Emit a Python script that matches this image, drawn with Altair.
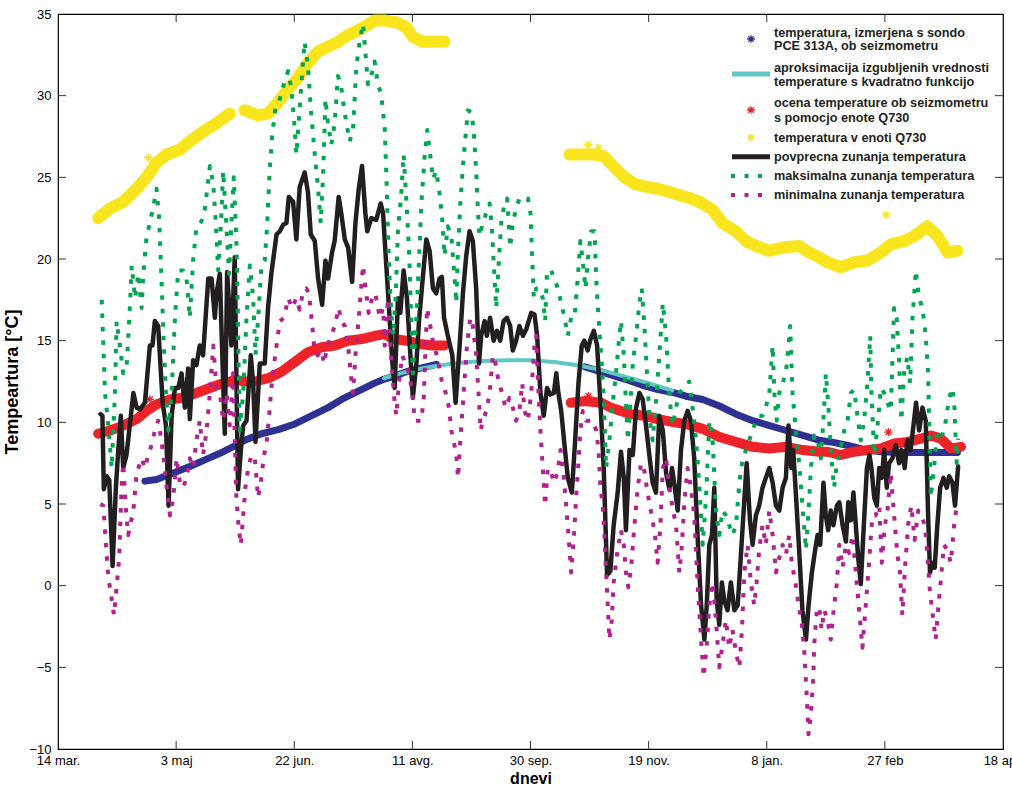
import altair as alt
import pandas as pd

# ---------------------------------------------------------------- layout
W, H = 945, 735                      # plot area in px
X_DOMAIN = [0, 400]                  # days since 14 March
Y_DOMAIN = [-10, 35]                 # deg C

tick_days = [0, 50, 100, 150, 200, 250, 300, 350, 400]
tick_labels = ["14 mar.", "3 maj", "22 jun.", "11 avg.", "30 sep.",
               "19 nov.", "8 jan.", "27 feb", "18 apr."]
y_ticks = [-10, -5, 0, 5, 10, 15, 20, 25, 30, 35]

FONT = "Liberation Sans"
C_BLUE = "#2E3192"
C_CYAN = "#62C6C4"
C_RED = "#EE2229"
C_YELLOW = "#F9E51E"
C_BLACK = "#231F20"
C_GREEN = "#00A651"
C_MAGENTA = "#B0228E"

# ---------------------------------------------------------------- data
# probe PCE 313A at the seismometer (two measured stretches)
probe_day_a = [36.8, 41.7, 48.8, 55.8, 62.9, 70, 75.5, 79, 86.1, 93.2, 100.3, 107.2,
               114.3, 121.3, 128.4, 134, 138.2, 141.8, 147.5, 153.1, 160.2]
probe_val_a = [6.4, 6.5, 6.9, 7.3, 7.75, 8.2, 8.6, 8.9, 9.3, 9.55, 9.9, 10.4,
               10.9, 11.5, 12.0, 12.4, 12.65, 12.8, 13.1, 13.3, 13.55]
probe_day_b = [223, 232, 239.8, 246.8, 253.9, 261, 265.8, 272.9, 280, 287, 294.1,
               301.2, 308.2, 315.3, 322.4, 327, 334, 341, 348.3, 355.3, 362.4,
               369.5, 376.5, 380.7]
probe_val_b = [13.4, 13.0, 12.65, 12.3, 12.0, 11.8, 11.6, 11.4, 11.0, 10.5, 10.1,
               9.8, 9.5, 9.2, 8.9, 8.8, 8.6, 8.35, 8.2, 8.15, 8.15, 8.15, 8.15, 8.15]

# quadratic approximation bridging the missing probe values
approx_day = [138, 145, 152, 160, 170, 180, 190, 200, 210, 220, 230, 240, 250, 260]
approx_val = [12.7, 13.0, 13.25, 13.45, 13.65, 13.75, 13.8, 13.8, 13.7, 13.5, 13.2,
              12.8, 12.4, 11.95]

# estimate at the seismometer from the Q730 unit
est_day_a = [17, 22, 27.6, 33.3, 37.5, 41.7, 47.3, 52.9, 58.6, 64.2, 69.9, 75.5, 79,
             83.3, 89, 94.6, 100.3, 105.9, 111.6, 117.2, 122.9, 128.5, 134.2, 138.4,
             141.8, 147.5, 153.1, 158.7, 163.6]
est_val_a = [9.3, 9.5, 9.8, 10.2, 10.7, 11.1, 11.4, 11.5, 11.8, 12.1, 12.4, 12.6, 12.5,
             12.5, 12.7, 13.1, 13.7, 14.3, 14.6, 14.7, 15.0, 15.1, 15.3, 15.4,
             15.1, 15.0, 14.8, 14.7, 14.7]
est_day_b = [217, 222.8, 229.9, 234.1, 238.3, 242.6, 248.2, 253.9, 261, 265.8, 272.9,
             280, 287, 294.1, 301.2, 308.2, 315.3, 322.4, 325.7, 331.3, 337, 342.6,
             348.3, 354, 359.6, 365.2, 369.5, 373.7, 378, 382.2]
est_val_b = [11.2, 11.3, 11.2, 10.9, 10.7, 10.5, 10.4, 10.2, 10.0, 9.9, 9.6,
             9.1, 8.8, 8.5, 8.4, 8.5, 8.3, 8.2, 8.2, 8.0, 8.2, 8.3,
             8.4, 8.7, 8.8, 9.0, 9.2, 9.0, 8.4, 8.5]
est_out_day = [38.9, 224.5, 351.5]
est_out_val = [11.4, 11.6, 9.4]

# temperature inside the Q730 unit
unit_day_a = [17, 22, 27.6, 33.3, 37.5, 41.7, 46, 51.6, 55.8, 61.4, 67, 72.7]
unit_val_a = [22.5, 23.1, 23.5, 24.3, 25.0, 25.9, 26.4, 26.7, 27.2, 27.8, 28.3, 28.9]
unit_day_b = [79, 84.7, 89, 93.2, 97.4, 101.6, 105.8, 110, 114.3, 118.5, 122.7, 128.4,
              134, 138.2, 143, 147.4, 150.2, 154.4, 158.7, 163.6]
unit_val_b = [29.1, 28.8, 28.9, 29.6, 30.4, 31.1, 32.0, 32.7, 33.0, 33.3, 33.7, 34.1,
              34.6, 34.6, 34.5, 34.2, 33.6, 33.3, 33.3, 33.3]
unit_day_c = [216.5, 221, 227, 231, 235.6, 239.8, 244, 249.6, 253.9, 258.8, 265.8,
              271.5, 277.1, 281.3, 286.9, 291.2, 295.4, 301, 306.7, 313.7, 317.9,
              322.2, 325.7, 331.3, 337, 342.6, 348.3, 352.5, 358.1, 362.4, 368,
              372.3, 376.5, 380.7]
unit_val_c = [26.4, 26.4, 26.4, 26.3, 25.6, 25.0, 24.6, 24.4, 24.3, 24.1, 23.8,
              23.5, 23.0, 22.2, 21.7, 21.1, 20.8, 20.5, 20.7, 20.8, 20.4,
              20.1, 19.8, 19.5, 19.8, 19.9, 20.4, 20.9, 21.1, 21.4, 22.0,
              21.4, 20.4, 20.5]
unit_out_day = [38.3, 224.4, 228.8, 350.5]
unit_out_val = [26.2, 27.0, 26.8, 22.7]

# daily mean outside temperature
mean_day = [18.0, 18.8, 19.4, 20.6, 21.7, 23.1, 24.5, 25.5, 26.6, 27.6, 29.0, 31.9,
            33.3, 34.7, 36.8, 38.9, 40.0, 41.0, 42.4, 44.3, 45.7, 46.8, 48.1, 49.5,
            50.9, 52.3, 53.7, 55.1, 55.8, 57.2, 58.6, 60.0, 61.4, 63.6, 65.0, 66.4,
            67.1, 68.5, 69.6, 70.6, 71.6, 73.4, 74.8, 76.2, 77.4, 78.4, 79.8, 81.6,
            82.6, 83.6, 85.4, 87.5, 88.9, 90.3, 92.5, 93.9, 95.3, 96.7, 97.7, 99.5,
            100.9, 102.3, 104.4, 105.8, 107.0, 108.7, 110.1, 111.8, 113.2, 114.3,
            116.0, 117.1, 118.8, 119.9, 121.4, 122.8, 124.5, 125.9, 127.3, 128.7,
            130.1, 130.9, 132.6, 134.7, 136.6, 137.6, 138.7, 140.1, 141.5, 142.5,
            143.9, 144.9, 146.3, 147.7, 149.5, 150.2, 151.7, 152.8, 154.2, 155.9,
            157.3, 158.7, 160.1, 161.5, 162.5, 163.4, 165.0, 166.9, 168.3, 170.0,
            171.4, 172.8, 174.2, 175.6, 177.0, 178.2, 179.1, 180.6, 181.5, 182.9,
            184.4, 185.8, 187.2, 188.6, 190.0, 191.4, 192.5, 193.9, 195.3, 196.8,
            198.2, 200.3, 201.7, 202.8, 204.2, 205.6, 207.0, 208.4, 209.9, 210.9,
            211.8, 213.0, 214.4, 215.8, 217.5, 218.9, 220.3, 221.7, 222.8, 224.2,
            225.4, 226.8, 228.2, 229.6, 231.0, 232.4, 233.8, 235.2, 236.9, 238.3,
            239.5, 240.4, 241.9, 243.3, 244.7, 246.1, 247.5, 248.9, 250.3, 251.7,
            253.1, 254.5, 256.0, 257.4, 258.8, 259.9, 260.9, 262.3, 263.7, 265.1,
            266.5, 267.9, 269.3, 270.7, 272.2, 273.6, 274.6, 275.7, 276.8, 277.8,
            278.8, 279.9, 281.0, 282.0, 283.4, 284.8, 286.3, 287.7, 288.6, 290.1,
            291.5, 292.9, 294.0, 295.4, 296.8, 298.2, 299.6, 301.1, 302.5, 303.9,
            305.3, 306.7, 308.1, 309.2, 310.4, 311.2, 312.3, 313.7, 315.1, 316.6,
            317.7, 319.1, 320.5, 321.5, 322.6, 324.0, 325.0, 326.0, 327.1, 328.2,
            329.7, 330.7, 332.1, 333.5, 334.5, 335.6, 336.7, 337.7, 338.7, 339.8,
            341.2, 342.4, 343.5, 344.3, 345.5, 346.6, 347.6, 348.7, 349.7, 350.8,
            351.8, 353.2, 354.6, 356.0, 357.0, 358.4, 359.5, 360.9, 362.1, 363.2,
            364.5, 365.9, 367.3, 368.3, 369.1, 370.1, 371.1, 372.2, 373.4, 374.8,
            376.2, 377.2, 378.6, 379.7, 381.0]
mean_val = [10.5, 10.4, 5.9, 6.7, 6.45, 1.2, 6.0, 8.3, 10.4, 7.2, 8.0, 11.8,
            10.9, 10.8, 11.2, 14.7, 14.7, 16.2, 15.9, 11.2, 9.8, 4.9, 10.4, 12.1,
            12.1, 13.0, 10.9, 13.3, 10.2, 13.8, 13.5, 14.7, 14.1, 18.8, 18.8, 16.4,
            17.9, 19.1, 13.8, 9.3, 19.2, 14.7, 20.1, 5.9, 8.3, 9.8, 10.1, 14.1,
            12.4, 8.8, 13.6, 13.6, 17.0, 19.1, 21.5, 21.7, 22.1, 22.2, 23.8, 23.5,
            21.2, 24.4, 25.3, 24.1, 21.5, 21.1, 18.8, 17.2, 19.9, 18.8,
            20.4, 21.1, 23.8, 22.8, 21.2, 20.7, 18.6, 22.2, 24.3, 25.7,
            22.8, 21.7, 22.5, 22.4, 23.4, 22.8, 20.2, 17.0, 13.7, 12.1,
            17.6, 16.7, 19.3, 17.6, 13.3, 11.5, 13.6, 16.2, 18.5, 21.2,
            20.5, 18.2, 17.9, 18.8, 18.9, 16.4, 15.3, 14.1, 11.2, 14.7,
            17.9, 20.2, 21.7, 21.1, 18.2, 13.6, 15.3, 16.2, 15.3, 16.4,
            15.0, 15.6, 15.0, 16.2, 16.4, 15.9, 14.4, 15.0, 15.9, 15.3,
            15.7, 16.7, 16.6, 15.3, 11.8, 10.4, 12.1, 11.7, 11.8, 13.0,
            11.8, 10.7, 8.6, 6.6, 5.7, 8.9, 12.4, 14.7, 15.0, 14.4,
            15.1, 15.6, 14.7, 11.2, 7.2, 0.65, 0.9, 3.7, 5.7, 8.2,
            6.6, 3.4, 8.3, 8.0, 10.9, 11.8, 11.4, 9.8, 8.0, 6.3,
            5.7, 10.4, 9.5, 6.9, 5.9, 7.2, 6.2, 4.6, 8.3, 10.1,
            10.7, 10.1, 7.8, 3.1, -1.2, -3.3, -1.2, 2.5, 3.1, 6.0,
            -0.9, -2.4, 0.2, -0.9, -1.5, 0.2, -1.5, -1.2, 0.8, 4.3,
            7.5, 4.0, 2.5, 4.3, 4.9, 6.0, 6.6, 7.2, 6.3, 4.9,
            4.6, 6.0, 6.6, 9.8, 7.2, 8.3, 5.7, 2.2, -1.5, -3.3,
            -1.2, 0.8, 2.2, 3.1, 2.5, 6.3, 4.3, 3.4, 4.6, 3.7,
            4.9, 5.1, 3.7, 2.7, 5.1, 4.0, 5.7, 3.7, 1.7, 0.1,
            4.0, 7.2, 8.0, 7.2, 5.4, 4.9, 7.2, 6.6, 8.3, 6.0,
            7.5, 7.8, 8.6, 7.5, 8.3, 7.2, 8.9, 8.3, 9.8, 11.2,
            9.5, 10.9, 10.1, 4.3, 0.8, 1.4, 1.1, 3.7, 6.0, 6.6,
            6.0, 6.7, 6.3, 4.9, 7.3]

# daily maximum outside temperature
max_day = [18.5, 19.2, 19.9, 21.3, 22.7, 24.1, 24.8, 26.2, 27.6, 29.0, 30.2, 31.2,
           32.6, 34.0, 35.4, 36.1, 37.5, 38.9, 40.6, 41.7, 42.8, 43.8, 44.8, 45.7,
           46.7, 48.1, 49.5, 50.9, 53.0, 54.4, 55.8, 57.2, 58.6, 60.7, 62.2, 64.3,
           65.7, 66.8, 67.8, 69.2, 69.9, 71.3, 72.4, 73.4, 74.4, 75.5, 76.0, 76.5,
           76.9, 78.4, 79.8, 81.2, 82.6, 83.6, 85.0, 86.1, 87.5, 88.5, 89.6, 90.6,
           92.0, 93.9, 96.0, 97.4, 98.8, 100.2, 100.9, 102.3, 103.7, 104.4, 105.8,
           107.0, 108.7, 110.1, 111.2, 112.2, 113.2, 114.3, 115.7, 117.1, 118.5,
           119.7, 121.1, 122.1, 123.5, 124.9, 126.3, 127.7, 129.1, 130.1, 131.2,
           132.6, 134.0, 135.4, 136.8, 138.3, 139.0, 139.7, 140.7, 141.8, 142.9,
           143.9, 145.3, 146.3, 147.4, 148.6, 149.5, 150.2, 151.7, 152.8, 153.8,
           155.2, 156.3, 157.6, 158.7, 160.1, 161.5, 162.6, 163.6, 165.0, 166.5,
           167.9, 168.6, 169.3, 170.3, 171.4, 172.5, 173.5, 174.9, 175.9, 177.0,
           177.7, 178.4, 179.8, 181.2, 182.7, 183.6, 184.8, 185.5, 186.6, 187.6,
           189.0, 190.1, 191.4, 192.5, 193.9, 195.3, 197.0, 198.9, 200.0, 200.6,
           201.4, 202.4, 203.8, 205.2, 206.2, 207.0, 208.7, 210.1, 211.6, 213.0,
           214.4, 215.8, 217.2, 218.6, 220.0, 221.1, 222.1, 223.3, 224.2, 225.7,
           227.1, 227.8, 228.8, 229.9, 230.9, 232.0, 233.4, 234.8, 236.2, 237.6,
           238.3, 239.5, 240.4, 241.2, 242.3, 243.3, 244.7, 246.1, 247.1, 248.2,
           249.3, 250.3, 251.7, 253.1, 254.5, 256.0, 257.4, 258.8, 260.2, 261.6,
           263.0, 265.1, 267.2, 268.6, 270.1, 271.5, 272.9, 274.3, 275.7, 277.1,
           278.5, 279.9, 281.3, 282.7, 284.1, 285.5, 287.0, 288.4, 289.8, 291.2,
           292.6, 294.0, 295.4, 296.8, 298.2, 299.6, 301.1, 302.5, 303.2, 304.2,
           305.3, 306.7, 308.1, 309.2, 309.9, 310.9, 312.3, 313.7, 315.1, 316.6,
           317.7, 318.7, 320.1, 321.5, 322.9, 324.3, 325.0, 326.0, 327.1, 328.5,
           329.7, 331.1, 332.8, 334.2, 335.6, 337.0, 338.4, 339.8, 341.2, 342.6,
           343.8, 344.3, 345.5, 346.9, 348.3, 349.7, 351.1, 352.5, 353.9, 355.0,
           356.0, 357.0, 358.1, 359.5, 360.7, 361.7, 363.1, 364.5, 365.9, 367.3,
           368.3, 369.4, 370.8, 372.2, 374.3, 375.8, 377.2, 378.6, 379.4, 380.4,
           381.0]
max_val = [17.5, 14.7, 11.8, 9.8, 7.2, 11.8, 16.2, 14.7, 13.0, 13.3, 16.4, 19.6,
           17.6, 19.1, 17.0, 19.1, 21.4, 22.2, 23.4, 24.3, 22.5, 18.8, 14.7, 11.8,
           9.5, 11.8, 16.4, 19.3, 19.3, 18.8, 16.4, 19.9, 22.0, 22.3, 23.1, 25.7,
           24.6, 22.2, 19.3, 22.8, 25.4, 22.0, 19.1, 22.2, 25.0, 21.1, 17.6, 13.0,
           9.5, 11.8, 16.4, 19.6, 17.6, 14.1, 17.0, 19.6, 19.9, 22.0, 25.4, 27.5,
           29.2, 29.8, 30.9, 31.5, 30.4, 28.0, 26.4, 29.2, 32.1, 33.3, 31.8,
           29.2, 26.4, 24.3, 22.2, 25.1, 29.8, 28.3, 27.0, 28.3, 31.2,
           30.7, 29.2, 28.3, 27.2, 28.0, 31.8, 33.3, 34.4, 32.7, 30.7,
           31.2, 32.1, 30.7, 30.1, 28.0, 25.1, 21.4, 17.6, 15.3, 17.6,
           21.7, 24.0, 26.4, 23.7, 20.5, 16.4, 13.0, 16.4, 19.9, 23.4,
           26.3, 27.9, 26.3, 24.9, 25.4, 24.0, 22.5, 20.2, 22.0, 21.4,
           18.8, 17.3, 20.5, 23.4, 25.7, 27.5, 29.1, 29.0, 28.0, 25.4,
           23.1, 21.4, 22.2, 22.8, 23.4, 22.0, 18.8, 17.0, 19.9, 22.2,
           23.4, 23.7, 20.7, 22.2, 23.1, 23.7, 23.6, 23.7, 22.8, 20.5,
           17.6, 18.2, 18.2, 17.6, 16.2, 19.3, 19.3, 18.8, 18.2, 17.3,
           16.4, 15.3, 16.4, 16.4, 18.8, 21.1, 19.9, 18.2, 19.9, 21.7,
           21.7, 18.8, 16.4, 14.1, 11.8, 7.2, 8.9, 11.2, 13.0, 15.3,
           16.2, 14.1, 11.2, 8.9, 11.2, 13.6, 15.3, 17.3, 18.2, 15.9,
           13.0, 10.4, 8.9, 11.2, 14.1, 17.3, 15.3, 11.5, 9.8, 10.9,
           11.8, 12.1, 12.5, 10.9, 8.9, 6.0, 2.5, 5.4, 10.1, 8.9,
           4.6, 3.1, 4.6, 4.3, 3.7, 3.1, 3.7, 6.3, 7.8, 8.3,
           8.9, 9.5, 10.1, 10.4, 10.4, 10.9, 11.8, 14.7, 11.8, 10.1,
           11.8, 12.4, 13.0, 14.7, 15.9, 11.8, 9.5, 7.5, 4.9, 2.2,
           4.6, 7.2, 9.2, 8.9, 7.8, 10.9, 13.0, 11.2, 8.3, 6.0,
           7.5, 8.3, 9.5, 10.1, 11.8, 12.0, 10.4, 8.9, 10.1, 12.4,
           15.3, 11.8, 8.0, 9.8, 12.1, 11.8, 11.2, 10.7, 17.0, 16.4,
           13.8, 10.1, 13.0, 14.0, 12.4, 16.4, 19.3, 17.6, 17.0, 15.3,
           13.0, 5.4, 7.2, 9.5, 9.2, 10.1, 11.5, 12.1, 11.0, 7.5,
           9.0]

# daily minimum outside temperature
min_day = [18.0, 19.2, 20.3, 21.3, 22.3, 23.7, 24.8, 25.9, 26.9, 27.6, 28.8, 29.7,
           30.7, 31.9, 33.3, 35.4, 36.8, 38.2, 39.6, 41.0, 42.4, 43.8, 45.2, 46.2,
           47.4, 48.8, 50.2, 51.6, 53.0, 54.4, 55.8, 57.2, 58.6, 60.0, 61.4, 62.9,
           64.3, 65.7, 67.1, 68.5, 69.9, 71.3, 72.7, 74.1, 75.5, 76.4, 77.4, 78.4,
           79.3, 80.5, 81.9, 83.3, 84.7, 85.8, 87.2, 88.2, 89.2, 90.3, 91.5, 92.5,
           93.9, 95.7, 97.4, 99.1, 100.9, 102.3, 103.7, 105.1, 106.2, 107.3, 108.4,
           109.8, 111.5, 112.6, 114.0, 115.7, 117.1, 118.8, 119.9, 121.4, 122.8,
           123.9, 124.9, 125.9, 127.3, 129.1, 130.2, 131.5, 132.9, 134.3, 136.2,
           137.6, 138.3, 139.7, 140.4, 141.5, 142.5, 143.2, 144.3, 145.7, 147.1,
           148.6, 150.0, 151.0, 152.4, 153.8, 154.8, 156.2, 157.6, 159.0, 160.4,
           161.5, 162.6, 164.1, 165.5, 166.5, 167.4, 168.6, 169.3, 170.3, 171.7,
           173.1, 174.5, 175.6, 177.0, 178.0, 178.9, 179.8, 181.3, 182.7, 184.1,
           185.2, 186.6, 188.0, 189.4, 191.1, 192.5, 193.9, 195.3, 196.5, 197.5,
           198.9, 200.3, 201.7, 202.4, 203.4, 204.2, 205.2, 206.2, 207.3, 208.7,
           210.1, 211.5, 212.7, 214.1, 215.1, 216.1, 217.2, 218.3, 219.3, 220.3,
           221.1, 222.1, 223.5, 225.0, 226.4, 227.8, 228.8, 229.6, 230.6, 231.3,
           232.0, 232.7, 233.4, 234.4, 235.2, 236.6, 238.3, 239.5, 240.4, 241.4,
           242.6, 244.0, 245.4, 246.8, 248.0, 248.9, 249.9, 251.3, 252.7, 253.8,
           255.0, 256.0, 257.4, 258.8, 260.2, 261.6, 263.0, 264.1, 265.1, 266.5,
           267.9, 269.3, 270.7, 272.2, 273.3, 274.6, 275.7, 277.1, 278.5, 279.9,
           281.3, 282.7, 284.1, 285.5, 287.0, 288.4, 289.5, 290.5, 291.9, 293.3,
           294.7, 295.7, 296.8, 298.2, 299.6, 301.1, 302.5, 303.9, 305.3, 306.7,
           308.1, 309.5, 310.6, 312.1, 313.5, 314.9, 315.9, 316.8, 317.7, 318.7,
           319.7, 320.1, 321.2, 322.2, 323.2, 324.3, 325.7, 327.1, 328.3, 329.7,
           330.7, 332.1, 333.5, 334.9, 336.3, 337.7, 339.1, 340.5, 341.9, 343.3,
           344.7, 346.1, 347.6, 348.7, 350.0, 351.1, 352.5, 353.9, 355.3, 356.4,
           357.4, 358.4, 359.8, 361.2, 362.6, 364.1, 365.5, 366.9, 368.0, 369.1,
           370.5, 371.5, 372.5, 373.6, 375.0, 376.4, 377.9, 379.3, 380.4]
min_val = [5.0, 4.9, 2.5, 0.5, -0.4, -1.8, -0.1, 1.7, 6.0, 7.5, 4.6, 3.1,
           3.8, 4.6, 6.9, 7.8, 7.2, 8.0, 8.6, 9.5, 10.1, 8.9, 7.2, 5.7,
           4.3, 5.4, 7.8, 6.3, 6.0, 6.6, 7.8, 7.2, 8.9, 10.1, 8.0, 9.5,
           11.8, 14.7, 12.1, 11.8, 10.1, 11.8, 9.8, 13.0, 5.4, 3.7, 2.5, 4.3,
           6.0, 7.2, 8.0, 7.8, 5.4, 6.3, 8.0, 8.6, 10.1, 12.1, 13.6, 14.7,
           16.2, 16.4, 17.6, 17.0, 17.6, 16.9, 18.0, 18.2, 17.9, 16.4, 14.7,
           14.1, 14.4, 13.6, 14.7, 15.3, 15.9, 17.0, 16.2, 15.9, 14.7,
           13.0, 11.8, 14.1, 16.4, 19.6, 18.2, 16.7, 17.6, 17.9, 16.4,
           17.0, 14.7, 17.6, 15.3, 13.0, 11.2, 10.4, 12.4, 14.1, 13.6,
           13.0, 11.8, 10.1, 10.1, 10.1, 11.5, 17.0, 15.9, 14.7, 14.1,
           13.3, 12.4, 11.8, 10.9, 9.5, 8.9, 8.0, 6.6, 8.9, 11.8,
           14.7, 16.4, 15.9, 14.1, 11.8, 9.5, 10.1, 10.7, 11.8, 14.1,
           13.6, 12.4, 11.8, 10.9, 11.5, 10.9, 10.1, 10.7, 12.4, 10.7,
           10.1, 11.8, 14.7, 15.3, 11.8, 9.5, 7.2, 4.9, 7.2, 6.9,
           6.3, 7.0, 8.3, 6.6, 4.9, 3.1, 0.8, 2.8, 5.4, 7.5,
           9.5, 10.7, 10.1, 10.1, 10.1, 9.5, 8.3, 6.0, 4.9, 3.1,
           0.8, -1.2, -3.3, -2.1, 0.2, 1.9, 3.4, 2.5, 0.8, -0.1,
           1.1, 3.7, 6.0, 7.5, 7.2, 6.3, 5.4, 4.3, 3.1, 1.4,
           3.7, 7.2, 7.8, 6.0, 4.7, 3.7, 0.8, 2.5, 5.1, 7.2,
           6.0, 4.3, 0.2, -3.3, -5.6, -3.6, -1.2, 0.2, -2.1, -5.0,
           -3.6, -2.1, -3.8, -2.7, -4.1, -5.0, -2.7, 0.8, 2.5, 0.2,
           -1.2, 0.2, 2.2, 3.7, 2.5, 4.6, 3.1, 0.8, 1.7, 2.5,
           1.9, 3.1, 1.4, 0.2, -1.2, -2.4, -4.1, -6.4, -9.1, -7.9,
           -5.6, -3.6, -1.5, -1.3, -2.7, -1.5, -2.1, -3.3, -1.5, 0.2,
           2.5, 1.1, 2.5, 2.0, 3.1, 0.8, -1.5, -3.8, -1.2, 1.4,
           4.3, 4.3, 4.9, 1.4, 3.7, 4.6, 6.9, 4.3, 1.9, 0.8,
           -1.8, 0.8, 3.7, 4.9, 2.8, 4.6, 4.3, 3.7, 1.9, -0.4,
           -2.1, -3.3, -1.5, 0.2, 2.5, 2.2, 1.4, 3.7, 4.9]

# legend entries (two lines for the longer descriptions)
legend_lines = [
    "temperatura, izmerjena s sondo", "PCE 313A, ob seizmometru",
    "aproksimacija izgubljenih vrednosti", "temperature s kvadratno funkcijo",
    "ocena temperature ob seizmometru", "s pomocjo enote Q730",
    "temperatura v enoti Q730",
    "povprecna zunanja temperatura",
    "maksimalna zunanja temperatura",
    "minimalna zunanja temperatura",
]
legend_rows_y = [18.7, 32, 53.7, 68.3, 89.3, 104.3, 123.7, 142.7, 162, 181]

# ---------------------------------------------------------------- helpers
ASTERISK = "M-1,0L1,0M0,-1L0,1M-0.7,-0.7L0.7,0.7M-0.7,0.7L0.7,-0.7"


def segs(*pairs):
    parts = []
    for i, (d, v) in enumerate(pairs):
        parts.append(pd.DataFrame({"d": d, "v": v, "seg": i}))
    return pd.concat(parts, ignore_index=True)


label_expr = "[" + ",".join("'%s'" % s for s in tick_labels) + "][round(datum.value / 50)]"

x_enc = alt.X(
    "d:Q",
    scale=alt.Scale(domain=X_DOMAIN, nice=False, zero=False),
    axis=alt.Axis(values=tick_days, labelExpr=label_expr, ticks=False, domain=False,
                  grid=False, labelFont=FONT, labelFontSize=13, labelColor="black",
                  labelPadding=5, labelFlush=False, labelOverlap=False,
                  title="dnevi", titleFont=FONT, titleFontSize=16,
                  titleFontWeight="bold", titleColor="black", titlePadding=3),
)
y_enc = alt.Y(
    "v:Q",
    scale=alt.Scale(domain=Y_DOMAIN, nice=False, zero=False),
    axis=alt.Axis(values=y_ticks, ticks=False, domain=False, grid=False,
                  labelFont=FONT, labelFontSize=13, labelColor="black",
                  labelPadding=7, labelFlush=False, labelOverlap=False,
                  title="Tempeartura [°C]", titleFont=FONT, titleFontSize=18,
                  titleFontWeight="bold", titleColor="black", titlePadding=7),
)


def band(df, color, width, dash=None, cap="round"):
    kw = dict(color=color, strokeWidth=width, strokeCap=cap, strokeJoin="round",
              clip=True)
    if dash:
        kw["strokeDash"] = dash
    return alt.Chart(df).mark_line(**kw).encode(x=x_enc, y=y_enc, detail="seg:N",
                                               order="d:Q")


def stars(days, vals, color, size=70):
    df = pd.DataFrame({"d": days, "v": vals})
    return alt.Chart(df).mark_point(shape=ASTERISK, color=color, size=size,
                                    strokeWidth=1.3, filled=False,
                                    opacity=1).encode(x=x_enc, y=y_enc)


DOT = [4.5, 9]

probe = band(segs((probe_day_a, probe_val_a), (probe_day_b, probe_val_b)), C_BLUE, 7)
approx = band(segs((approx_day, approx_val)), C_CYAN, 4)
estimate = band(segs((est_day_a, est_val_a), (est_day_b, est_val_b)), C_RED, 10)
estimate_out = stars(est_out_day, est_out_val, C_RED)
unit = band(segs((unit_day_a, unit_val_a), (unit_day_b, unit_val_b),
                 (unit_day_c, unit_val_c)), C_YELLOW, 12)
unit_out = stars(unit_out_day, unit_out_val, C_YELLOW)
mean_line = band(segs((mean_day, mean_val)), C_BLACK, 4.5)
max_line = band(segs((max_day, max_val)), C_GREEN, 4, dash=DOT, cap="butt")
min_line = band(segs((min_day, min_val)), C_MAGENTA, 4, dash=DOT, cap="butt")

# inward pointing ticks on all four sides of the box
xt = pd.DataFrame({"d": tick_days[1:-1]})
yt = pd.DataFrame({"v": y_ticks[1:-1]})
tick_style = dict(color="#333333", strokeWidth=1)
ticks = [
    alt.Chart(xt).mark_rule(**tick_style).encode(x=x_enc, y=alt.value(H), y2=alt.value(H - 8)),
    alt.Chart(xt).mark_rule(**tick_style).encode(x=x_enc, y=alt.value(0), y2=alt.value(8)),
    alt.Chart(yt).mark_rule(**tick_style).encode(y=y_enc, x=alt.value(0), x2=alt.value(8)),
    alt.Chart(yt).mark_rule(**tick_style).encode(y=y_enc, x=alt.value(W), x2=alt.value(W - 8)),
]

# legend drawn in the upper right corner of the plot area
one = pd.DataFrame({"k": [0]})
LX_TEXT = 716
LX_SYM = 693
leg_text = alt.Chart(pd.DataFrame({"label": legend_lines, "ly": legend_rows_y})).mark_text(
    align="left", baseline="middle", font=FONT, fontSize=12.7, fontWeight="bold",
    color=C_BLACK).encode(x=alt.value(LX_TEXT), y=alt.Y("ly:Q", scale=None, axis=None),
                          text="label:N")


def leg_star(y, color):
    return alt.Chart(one).mark_point(shape=ASTERISK, color=color, size=60, strokeWidth=1.3,
                                     filled=False, opacity=1).encode(
        x=alt.value(LX_SYM), y=alt.value(y))


def leg_line(y, color, width, dash=None, x1=674, x2=712):
    kw = dict(color=color, strokeWidth=width, strokeCap="butt")
    if dash:
        kw["strokeDash"] = dash
    return alt.Chart(one).mark_rule(**kw).encode(x=alt.value(x1), x2=alt.value(x2),
                                                 y=alt.value(y))


legend = [
    leg_star(25, C_BLUE),
    leg_line(60, C_CYAN, 5),
    leg_star(96, C_RED),
    leg_star(123.5, C_YELLOW),
    leg_line(142.7, C_BLACK, 5),
    leg_line(162, C_GREEN, 4, dash=[4, 9.5], x1=673, x2=706),
    leg_line(181, C_MAGENTA, 4, dash=[4, 9.5], x1=673, x2=706),
    leg_text,
]

chart = alt.layer(
    probe, approx, estimate, estimate_out, unit, unit_out,
    mean_line, max_line, min_line, *ticks, *legend
).properties(
    width=W, height=H,
    padding={"left": 58, "top": 14, "right": 9, "bottom": 38},
    autosize=alt.AutoSizeParams(type="none"),
    background="white",
).configure_view(stroke="black", strokeWidth=1.2)

chart.save("out.html", embed_options={"renderer": "svg", "actions": False})
